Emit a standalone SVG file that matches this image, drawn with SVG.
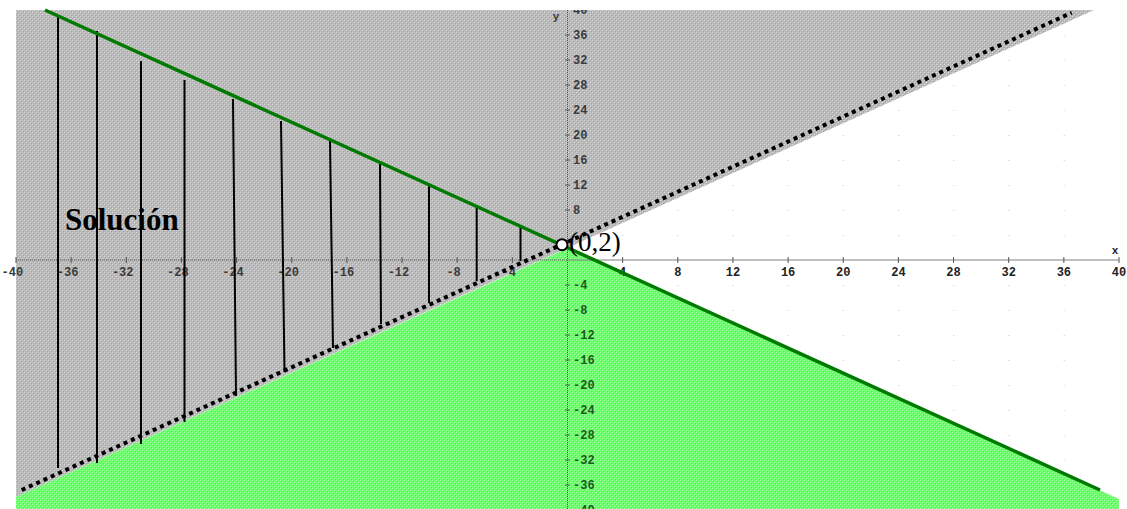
<svg xmlns="http://www.w3.org/2000/svg" width="1127" height="509" viewBox="0 0 1127 509">
<defs>
<pattern id="pg" width="4" height="4" patternUnits="userSpaceOnUse">
<rect width="4" height="4" fill="#bababa"/>
<rect x="0" y="0" width="1" height="1" fill="#dcdcdc"/>
<rect x="2" y="2" width="1" height="1" fill="#dcdcdc"/>
<rect x="1" y="1" width="1" height="1" fill="#a4a4a4"/>
<rect x="3" y="3" width="1" height="1" fill="#a4a4a4"/>
</pattern>
<pattern id="pgr" width="4" height="4" patternUnits="userSpaceOnUse">
<rect width="4" height="4" fill="#6cff6c"/>
<rect x="0" y="0" width="1" height="1" fill="#a8ffa8"/>
<rect x="2" y="2" width="1" height="1" fill="#a8ffa8"/>
<rect x="1" y="1" width="1" height="1" fill="#50f050"/>
<rect x="3" y="3" width="1" height="1" fill="#50f050"/>
</pattern>
<pattern id="grid" x="567" y="260" width="55.1875" height="25" patternUnits="userSpaceOnUse">
<rect width="1" height="1" fill="#c8c8c8"/>
</pattern>
<clipPath id="plot"><rect x="0" y="10" width="1127" height="500"/></clipPath>
<style>
.xl{font-family:"Liberation Mono",monospace;font-size:12px;font-weight:bold;fill:#3a3a3a}
.xr{font-family:"Liberation Mono",monospace;font-size:12px;font-weight:bold;fill:#222}
.yl{font-family:"Liberation Mono",monospace;font-size:12px;font-weight:bold;fill:#3a3a3a}
.yg{font-family:"Liberation Mono",monospace;font-size:12px;font-weight:bold;fill:#1d5a1d}
.hatch{stroke:#000;stroke-width:2}
.tick{stroke:#555;stroke-width:1}
</style>
</defs>
<rect width="1127" height="509" fill="#fff"/>
<g id="plot-area" clip-path="url(#plot)">
<rect x="16" y="10" width="1103" height="500" fill="url(#grid)"/>
<polygon id="gray-region" points="16,10 1094,10 16,497" fill="url(#pg)"/>
<polygon id="green-region" points="16,510 16,497 568,248 1119,499 1119,510" fill="url(#pgr)"/>
<g id="axes">
<line x1="16" y1="260" x2="568" y2="260" stroke="#555" stroke-width="1" stroke-dasharray="1 1"/>
<line x1="568" y1="260" x2="1119" y2="260" stroke="#808080" stroke-width="1.2"/>
<line x1="567.5" y1="10" x2="567.5" y2="510" stroke="#555" stroke-width="1" stroke-dasharray="1 1"/>
<g class="tick">
<line x1="16" y1="257" x2="16" y2="263"/><line x1="71.15" y1="257" x2="71.15" y2="263"/><line x1="126.3" y1="257" x2="126.3" y2="263"/><line x1="181.45" y1="257" x2="181.45" y2="263"/><line x1="236.6" y1="257" x2="236.6" y2="263"/><line x1="291.75" y1="257" x2="291.75" y2="263"/><line x1="346.9" y1="257" x2="346.9" y2="263"/><line x1="402.05" y1="257" x2="402.05" y2="263"/><line x1="457.2" y1="257" x2="457.2" y2="263"/><line x1="512.35" y1="257" x2="512.35" y2="263"/><line x1="622.65" y1="257" x2="622.65" y2="263"/><line x1="677.8" y1="257" x2="677.8" y2="263"/><line x1="732.95" y1="257" x2="732.95" y2="263"/><line x1="788.1" y1="257" x2="788.1" y2="263"/><line x1="843.25" y1="257" x2="843.25" y2="263"/><line x1="898.4" y1="257" x2="898.4" y2="263"/><line x1="953.55" y1="257" x2="953.55" y2="263"/><line x1="1008.7" y1="257" x2="1008.7" y2="263"/><line x1="1063.85" y1="257" x2="1063.85" y2="263"/><line x1="1119" y1="257" x2="1119" y2="263"/>
<line x1="565" y1="35" x2="570" y2="35"/><line x1="565" y1="60" x2="570" y2="60"/><line x1="565" y1="85" x2="570" y2="85"/><line x1="565" y1="110" x2="570" y2="110"/><line x1="565" y1="135" x2="570" y2="135"/><line x1="565" y1="160" x2="570" y2="160"/><line x1="565" y1="185" x2="570" y2="185"/><line x1="565" y1="210" x2="570" y2="210"/><line x1="565" y1="285" x2="570" y2="285"/><line x1="565" y1="310" x2="570" y2="310"/><line x1="565" y1="335" x2="570" y2="335"/><line x1="565" y1="360" x2="570" y2="360"/><line x1="565" y1="385" x2="570" y2="385"/><line x1="565" y1="410" x2="570" y2="410"/><line x1="565" y1="435" x2="570" y2="435"/><line x1="565" y1="460" x2="570" y2="460"/><line x1="565" y1="485" x2="570" y2="485"/>
</g>
<g id="x-labels">
<text class="xl" x="23.2" y="276" text-anchor="end">-40</text>
<text class="xl" x="78.35" y="276" text-anchor="end">-36</text>
<text class="xl" x="133.5" y="276" text-anchor="end">-32</text>
<text class="xl" x="188.65" y="276" text-anchor="end">-28</text>
<text class="xl" x="243.8" y="276" text-anchor="end">-24</text>
<text class="xl" x="298.95" y="276" text-anchor="end">-20</text>
<text class="xl" x="354.1" y="276" text-anchor="end">-16</text>
<text class="xl" x="409.25" y="276" text-anchor="end">-12</text>
<text class="xl" x="460.8" y="276" text-anchor="end">-8</text>
<text class="xl" x="515.95" y="276" text-anchor="end">-4</text>
<text class="xr" x="622.65" y="276" text-anchor="middle">4</text>
<text class="xr" x="677.8" y="276" text-anchor="middle">8</text>
<text class="xr" x="732.95" y="276" text-anchor="middle">12</text>
<text class="xr" x="788.1" y="276" text-anchor="middle">16</text>
<text class="xr" x="843.25" y="276" text-anchor="middle">20</text>
<text class="xr" x="898.4" y="276" text-anchor="middle">24</text>
<text class="xr" x="953.55" y="276" text-anchor="middle">28</text>
<text class="xr" x="1008.7" y="276" text-anchor="middle">32</text>
<text class="xr" x="1063.85" y="276" text-anchor="middle">36</text>
<text class="xr" x="1119" y="276" text-anchor="middle">40</text>
<text class="xr" x="1115" y="254" text-anchor="middle" style="font-size:11px">x</text>
</g>
<g id="y-labels">
<text class="yl" x="573" y="14">40</text>
<text class="yl" x="573" y="39">36</text>
<text class="yl" x="573" y="64">32</text>
<text class="yl" x="573" y="89">28</text>
<text class="yl" x="573" y="114">24</text>
<text class="yl" x="573" y="139">20</text>
<text class="yl" x="573" y="164">16</text>
<text class="yl" x="573" y="189">12</text>
<text class="yl" x="573" y="214">8</text>
<text class="yg" x="573" y="289">-4</text>
<text class="yg" x="573" y="314">-8</text>
<text class="yg" x="573" y="339">-12</text>
<text class="yg" x="573" y="364">-16</text>
<text class="yg" x="573" y="389">-20</text>
<text class="yg" x="573" y="414">-24</text>
<text class="yg" x="573" y="439">-28</text>
<text class="yg" x="573" y="464">-32</text>
<text class="yg" x="573" y="489">-36</text>
<text class="yg" x="573" y="514">-40</text>
<text class="yl" x="556" y="20" text-anchor="middle" style="font-size:11px">y</text>
</g>
</g>
</g>
<g id="connectors">
<g id="hatching" class="hatch">
<line x1="58" y1="15" x2="58" y2="468"/>
<line x1="97" y1="31" x2="97" y2="463"/>
<line x1="141" y1="61" x2="141" y2="444"/>
<line x1="184.5" y1="80" x2="184.5" y2="422"/>
<line x1="233" y1="99" x2="236" y2="396"/>
<line x1="281" y1="121" x2="284.5" y2="372"/>
<line x1="330" y1="141" x2="333" y2="348"/>
<line x1="380" y1="164" x2="381" y2="324"/>
<line x1="429" y1="186" x2="429" y2="303"/>
<line x1="476.7" y1="207" x2="476.7" y2="281"/>
<line x1="520.5" y1="227" x2="520.5" y2="261"/>
</g>
<line id="green-line" x1="45" y1="10" x2="1100" y2="490" stroke="#007a00" stroke-width="3.5"/>
<line id="dotted-line" x1="21.7" y1="490" x2="1071.7" y2="12.7" stroke="#000" stroke-width="4" stroke-dasharray="4 4"/>
</g>
<g id="point">
<circle cx="562" cy="244.7" r="5.5" fill="#fff" stroke="#000" stroke-width="2"/>
<text x="569" y="251" font-family="Liberation Serif, serif" font-size="27">(0,2)</text>
</g>
<g id="label-solucion">
<text x="65" y="230" font-family="Liberation Serif, serif" font-size="31" font-weight="bold">Solución</text>
</g>
</svg>
